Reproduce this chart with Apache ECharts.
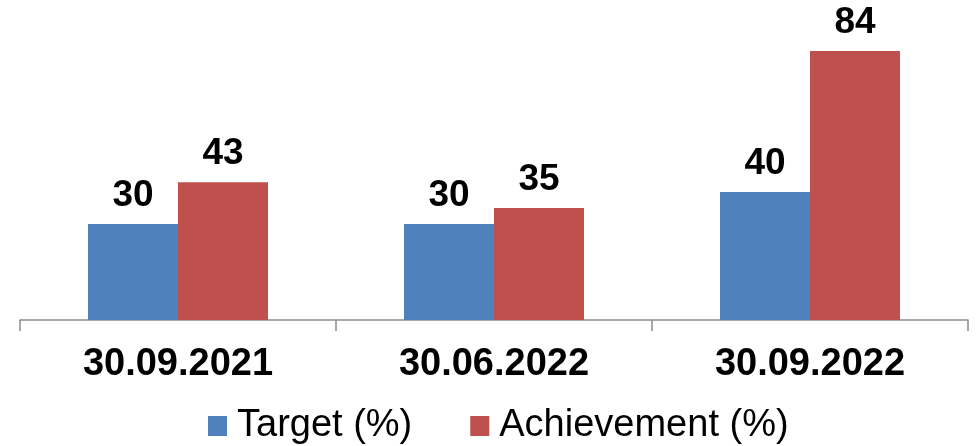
<!DOCTYPE html>
<html>
<head>
<meta charset="utf-8">
<script src="https://cdn.jsdelivr.net/npm/echarts@6/dist/echarts.min.js"></script>
<style>html,body{margin:0;padding:0;background:#fff;}#c{width:980px;height:446px;}</style>
</head>
<body>
<div id="c"></div>
<script>
const categories = ['30.09.2021', '30.06.2022', '30.09.2022'];
const targetValues = [30, 30, 40];
const achievementValues = [43, 35, 84];
const seriesNames = ['Target (%)', 'Achievement (%)'];

const FONT = '"Liberation Sans", Arial, sans-serif';
const chart = echarts.init(document.getElementById('c'), null, {renderer: 'canvas'});
const labelStyle = {show: true, position: 'top', distance: 10, color: '#000', fontSize: 37, fontWeight: 'bold', fontFamily: FONT};
chart.setOption({
  animation: false,
  grid: {left: 20, right: 12, top: 51, bottom: 126, containLabel: false},
  legend: {
    data: seriesNames,
    left: 203, top: 402,
    itemWidth: 19, itemHeight: 20, itemGap: 58,
    icon: 'rect',
    textStyle: {fontSize: 38, color: '#000', fontFamily: FONT, padding: [0, 0, 0, 5]}
  },
  xAxis: {
    type: 'category', data: categories,
    axisLine: {lineStyle: {color: '#8c8c8c', width: 1.5}},
    axisTick: {show: true, length: 11, lineStyle: {color: '#8c8c8c', width: 1.5}},
    axisLabel: {color: '#000', fontSize: 38, fontWeight: 'bold', fontFamily: FONT, margin: 26}
  },
  yAxis: {type: 'value', min: 0, max: 84, show: false, splitLine: {show: false}},
  series: [
    {name: seriesNames[0], type: 'bar', data: targetValues, barWidth: 90, barGap: '0%', itemStyle: {color: '#4F81BD'}, label: labelStyle},
    {name: seriesNames[1], type: 'bar', data: achievementValues, barWidth: 90, barGap: '0%', itemStyle: {color: '#C0504D'}, label: labelStyle}
  ]
});
</script>
</body>
</html>
